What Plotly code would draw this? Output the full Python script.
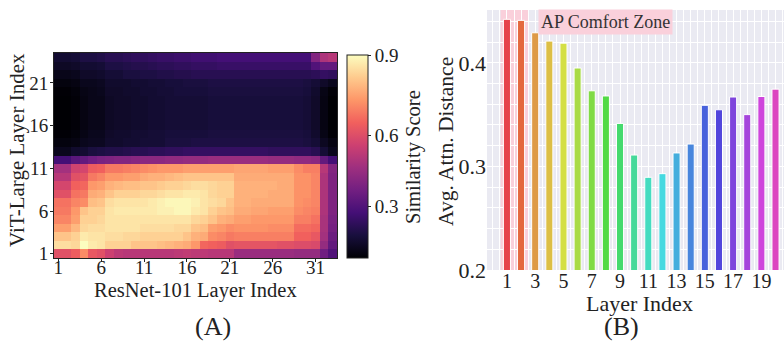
import plotly.graph_objects as go

W, H = 784, 341
FONT = "Liberation Serif"

# ---------------- Panel A data: similarity matrix (rows = ViT layer 1..24, cols = ResNet layer 1..33)
resnet_layers = list(range(1, 34))
vit_layers = list(range(1, 25))
similarity = [
    [.61,.61,.64,.72,.63,.61,.56,.53,.52,.52,.52,.52,.52,.52,.53,.54,.53,.53,.52,.52,.52,.46,.46,.46,.46,.46,.46,.46,.45,.45,.45,.37,.30],
    [.85,.85,.84,.90,.87,.86,.83,.83,.83,.81,.81,.81,.80,.79,.78,.77,.74,.66,.65,.64,.61,.62,.62,.62,.62,.62,.61,.61,.60,.60,.59,.45,.34],
    [.81,.81,.83,.87,.86,.86,.85,.85,.84,.84,.83,.83,.83,.83,.83,.81,.78,.77,.72,.71,.69,.70,.70,.70,.70,.70,.70,.70,.65,.65,.63,.48,.36],
    [.75,.75,.79,.84,.85,.85,.86,.86,.86,.86,.85,.85,.85,.85,.84,.84,.81,.80,.75,.74,.72,.73,.73,.73,.73,.72,.72,.72,.67,.67,.66,.49,.38],
    [.71,.71,.75,.83,.83,.84,.86,.86,.86,.86,.86,.86,.86,.86,.86,.86,.84,.83,.81,.78,.77,.75,.75,.74,.74,.74,.74,.74,.70,.70,.68,.49,.39],
    [.69,.69,.74,.81,.83,.83,.86,.87,.87,.87,.87,.87,.88,.88,.89,.89,.87,.86,.83,.81,.80,.77,.77,.76,.76,.75,.75,.75,.72,.71,.70,.50,.40],
    [.68,.68,.71,.72,.80,.81,.85,.86,.86,.86,.86,.87,.88,.89,.89,.89,.88,.86,.85,.84,.81,.78,.78,.77,.77,.77,.77,.77,.73,.72,.71,.50,.40],
    [.61,.61,.68,.69,.77,.78,.81,.83,.83,.83,.84,.84,.85,.86,.86,.87,.87,.86,.84,.83,.83,.78,.78,.78,.78,.77,.77,.77,.73,.73,.71,.50,.40],
    [.58,.58,.65,.66,.74,.75,.78,.79,.80,.80,.81,.81,.82,.83,.83,.84,.85,.85,.84,.83,.83,.78,.78,.78,.78,.78,.77,.77,.73,.73,.71,.50,.40],
    [.52,.52,.61,.62,.69,.71,.74,.74,.75,.75,.77,.78,.78,.79,.80,.81,.81,.81,.81,.81,.81,.77,.77,.77,.77,.77,.77,.77,.73,.73,.71,.50,.40],
    [.48,.48,.57,.58,.64,.65,.69,.69,.70,.71,.72,.73,.74,.74,.74,.75,.75,.75,.75,.75,.75,.76,.76,.76,.76,.75,.75,.75,.72,.70,.70,.52,.41],
    [.27,.27,.32,.34,.37,.39,.40,.41,.41,.42,.43,.43,.43,.44,.44,.45,.45,.45,.46,.46,.46,.46,.46,.46,.46,.45,.45,.45,.44,.44,.43,.34,.27],
    [.08,.08,.12,.13,.16,.17,.18,.18,.19,.20,.20,.21,.21,.22,.22,.23,.23,.23,.23,.23,.23,.23,.23,.23,.23,.22,.22,.22,.22,.22,.20,.14,.08],
    [.04,.04,.05,.08,.09,.09,.12,.12,.13,.13,.14,.14,.14,.16,.16,.16,.17,.17,.17,.17,.17,.17,.17,.17,.17,.17,.17,.17,.17,.16,.14,.09,.05],
    [.01,.01,.03,.06,.08,.08,.11,.12,.12,.13,.13,.14,.14,.15,.15,.15,.15,.15,.16,.16,.16,.16,.16,.16,.16,.16,.16,.16,.16,.15,.12,.06,.01],
    [.00,.00,.02,.05,.07,.07,.10,.11,.11,.12,.12,.13,.13,.14,.14,.14,.14,.14,.15,.15,.15,.15,.15,.15,.15,.15,.15,.15,.15,.14,.11,.05,.00],
    [.00,.00,.02,.05,.07,.07,.10,.11,.11,.12,.12,.13,.13,.14,.14,.14,.14,.14,.15,.15,.15,.15,.15,.15,.15,.15,.15,.15,.15,.14,.11,.05,.00],
    [.00,.00,.02,.05,.07,.07,.10,.11,.11,.12,.12,.13,.13,.14,.14,.14,.14,.14,.15,.15,.15,.15,.15,.15,.15,.15,.15,.15,.15,.14,.11,.05,.00],
    [.00,.00,.02,.05,.07,.07,.10,.11,.11,.12,.12,.13,.13,.14,.14,.14,.14,.14,.15,.15,.15,.15,.15,.15,.15,.15,.15,.15,.15,.14,.11,.05,.00],
    [.01,.01,.03,.06,.07,.08,.11,.11,.12,.12,.13,.13,.14,.14,.15,.15,.15,.15,.16,.16,.16,.16,.16,.16,.16,.16,.16,.16,.16,.15,.12,.06,.02],
    [.04,.04,.05,.08,.08,.09,.12,.12,.12,.13,.13,.14,.14,.15,.15,.16,.16,.16,.17,.17,.17,.17,.17,.17,.17,.17,.17,.17,.17,.16,.14,.11,.08],
    [.07,.07,.08,.11,.11,.12,.14,.14,.16,.16,.17,.17,.18,.18,.19,.19,.20,.20,.20,.20,.20,.20,.20,.20,.20,.20,.20,.20,.20,.20,.21,.23,.22],
    [.10,.10,.11,.13,.13,.14,.17,.17,.18,.19,.19,.20,.21,.21,.22,.22,.23,.23,.23,.24,.24,.24,.24,.24,.24,.24,.24,.24,.24,.24,.30,.34,.34],
    [.13,.13,.14,.17,.17,.18,.20,.20,.21,.22,.22,.23,.24,.24,.25,.25,.26,.26,.26,.27,.27,.27,.27,.27,.27,.27,.27,.27,.27,.27,.41,.50,.52],
]
heat_xticks = [1, 6, 11, 16, 21, 26, 31]
heat_yticks = [1, 6, 11, 16, 21]
cbar_ticks = [0.3, 0.6, 0.9]
SIM_MAX = 0.9
GAMMA = 1.25  # power-norm of colour scale

# ---------------- Panel B data
layers = list(range(1, 21))
attn_distance = [0.442, 0.441, 0.429, 0.421, 0.419, 0.395, 0.373, 0.368, 0.3415, 0.311,
                 0.2895, 0.293, 0.313, 0.3216, 0.359, 0.3547, 0.367, 0.350, 0.3675, 0.3746]
bar_colors = ["#E6434B", "#E4693F", "#DE9A45", "#DDBF45", "#D4DF45", "#A9DB45", "#80DB45",
              "#52DA45", "#45DA6E", "#45D99A", "#45DCC0", "#45D9E0", "#45AEDD", "#4886DD",
              "#4862DC", "#5245DC", "#7E45DC", "#A545DC", "#CE45DC", "#DC45C0"]
bar_xticks = [1, 3, 5, 7, 9, 11, 13, 15, 17, 19]
bar_yticks = [0.2, 0.3, 0.4]
zone_x = [0.55, 2.5]


def px(x):
    return x / W


def py(y):
    return 1 - y / H


z_plot = [[(v / SIM_MAX) ** GAMMA for v in row] for row in similarity]

tick_font = dict(family=FONT, size=19, color="#222")

fig = go.Figure()
fig.add_trace(go.Heatmap(
    x=resnet_layers, y=vit_layers, z=z_plot, colorscale="Magma", zmin=0, zmax=1,
    xaxis="x", yaxis="y", hoverinfo="skip",
    colorbar=dict(
        x=px(347), xanchor="left", xpad=0, ypad=0, thickness=21,
        y=py(258), yanchor="bottom", len=(258 - 55) / H, lenmode="fraction",
        outlinecolor="#222", outlinewidth=1,
        tickvals=[(t / SIM_MAX) ** GAMMA for t in cbar_ticks],
        ticktext=[str(t) for t in cbar_ticks],
        ticks="outside", ticklen=3, tickcolor="#222",
        tickfont=tick_font,
    ),
))

fig.add_trace(go.Bar(
    x=layers, y=attn_distance, width=0.5, xaxis="x2", yaxis="y2",
    marker=dict(color=bar_colors, line=dict(color="white", width=1)),
    hoverinfo="skip",
))

fig.update_layout(
    width=W, height=H, margin=dict(l=0, r=0, t=0, b=0, autoexpand=False),
    paper_bgcolor="white", plot_bgcolor="#EAEAF2", showlegend=False,
    font=dict(family=FONT, color="#222", size=19),
    xaxis=dict(domain=[px(54), px(337)], range=[0.5, 33.5], tickvals=heat_xticks,
               ticks="outside", ticklen=3, tickcolor="#222", showgrid=False, zeroline=False,
               showline=True, linecolor="#222", linewidth=1, mirror=True,
               tickfont=tick_font, anchor="y", ticklabelstandoff=-11),
    yaxis=dict(domain=[py(258), py(53)], range=[0.5, 24.5], tickvals=heat_yticks,
               ticks="outside", ticklen=3, tickcolor="#222", showgrid=False, zeroline=False,
               showline=True, linecolor="#222", linewidth=1, mirror=True,
               tickfont=tick_font, anchor="x", ticklabelstandoff=-2),
    xaxis2=dict(domain=[px(487), 1.0], range=[-0.41, 20.6], tickvals=bar_xticks,
                showgrid=True, gridcolor="white", gridwidth=1.3, zeroline=False,
                minor=dict(dtick=0.5, tick0=0, showgrid=True, gridcolor="white", gridwidth=0.8),
                showline=False, ticks="", tickfont=dict(family=FONT, size=20, color="#222"),
                anchor="y2", ticklabelstandoff=-3),
    yaxis2=dict(domain=[py(270), py(10)], range=[0.2, 0.451], tickvals=bar_yticks,
                showgrid=True, gridcolor="white", gridwidth=1.3, zeroline=False,
                minor=dict(dtick=0.02, tick0=0.2, showgrid=True, gridcolor="white", gridwidth=0.8),
                showline=False, ticks="", tickfont=dict(family=FONT, size=22, color="#222"),
                anchor="x2"),
)

fig.add_shape(type="rect", xref="x2", yref="y2 domain", x0=zone_x[0], x1=zone_x[1], y0=0, y1=1,
              fillcolor="#FAD0DB", line=dict(width=0), layer="below")

ann = [
    dict(text="AP Comfort Zone", xref="x2", yref="y2", x=3.2, y=0.4395, xanchor="left",
         yanchor="middle", bgcolor="#FAD0DB", borderpad=2, font=dict(family=FONT, size=18, color="#333")),
    dict(text="ViT-Large Layer Index", x=px(17), y=py(150), textangle=-90, font=dict(family=FONT, size=21, color="#222")),
    dict(text="ResNet-101 Layer Index", x=px(195), y=py(290), font=dict(family=FONT, size=20.5, color="#222")),
    dict(text="Similarity Score", x=px(413), y=py(157), textangle=-90, font=dict(family=FONT, size=20.5, color="#222")),
    dict(text="(A)", x=px(213), y=py(326), font=dict(family=FONT, size=26, color="#222")),
    dict(text="Avg. Attn. Distance", x=px(446), y=py(142), textangle=-90, font=dict(family=FONT, size=21.5, color="#222")),
    dict(text="Layer Index", x=px(639), y=py(303), font=dict(family=FONT, size=22, color="#222")),
    dict(text="(B)", x=px(621), y=py(326), font=dict(family=FONT, size=26, color="#222")),
]
for a in ann:
    a.setdefault("xref", "paper")
    a.setdefault("yref", "paper")
    a.setdefault("showarrow", False)
    a.setdefault("xanchor", "center")
    a.setdefault("yanchor", "middle")
    fig.add_annotation(**a)

fig.write_html("out.html", config={"displayModeBar": False},
               post_script="document.body.style.margin='0px';")
